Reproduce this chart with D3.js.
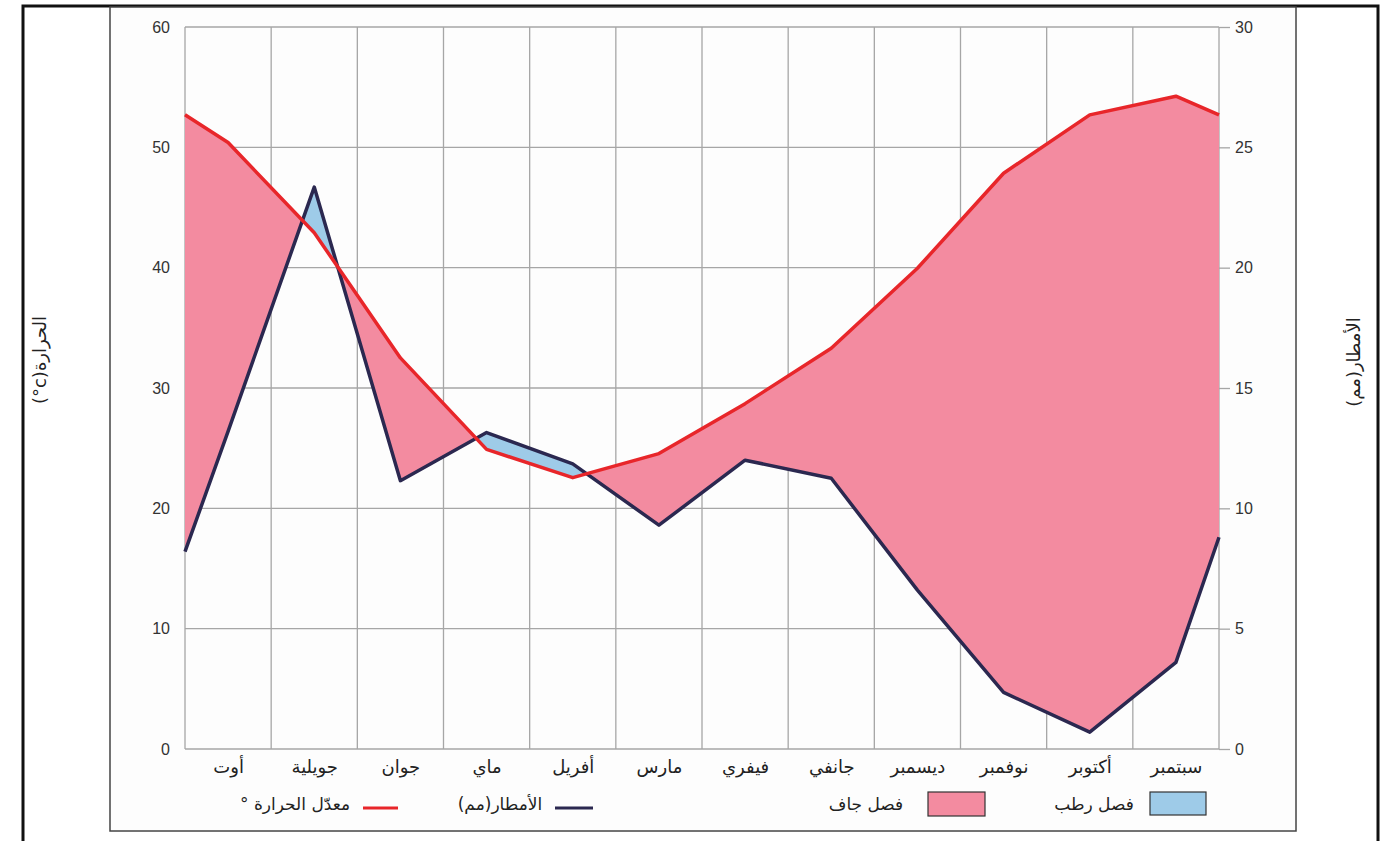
<!DOCTYPE html>
<html>
<head>
<meta charset="utf-8">
<script src="https://cdn.jsdelivr.net/npm/d3@7"></script>
<style>
  body { margin: 0; background: #fff; }
  svg { display: block; }
  .ar { font-family: "DejaVu Sans", sans-serif; }
  .num { font-family: "Liberation Sans", "Open Sans", sans-serif; font-size: 16px; fill: #333; }
</style>
</head>
<body>
<svg id="grafico" width="1392" height="841"></svg>
<script>
// meses (de izquierda a derecha como en el original)
var meses = ["أوت", "جويلية", "جوان", "ماي", "أفريل", "مارس", "فيفري", "جانفي", "ديسمبر", "نوفمبر", "أكتوبر", "سبتمبر"];
// temperatura media (eje izquierdo, 0-60)
var temperatura = [50.4, 42.9, 32.5, 24.9, 22.55, 24.55, 28.7, 33.3, 39.95, 47.85, 52.7, 54.25];
// lluvias en mm (eje derecho, 0-30)
var lluvia = [13.2, 23.35, 11.15, 13.15, 11.85, 9.3, 12.0, 11.25, 6.6, 2.35, 0.7, 3.6];
// valores en los bordes izquierdo / derecho del grafico
var bordeTemperatura = [52.7, 52.7];
var bordeLluvia = [8.2, 8.8];
var ticksTemp = [0, 10, 20, 30, 40, 50, 60];
var ticksLluvia = [0, 5, 10, 15, 20, 25, 30];

(function () {
var svg = d3.select("#grafico");
var M = { left: 185, right: 1219, top: 27, bottom: 749 };

var escalaX = d3.scaleLinear().domain([0, 12]).range([M.left, M.right]);
var escalaT = d3.scaleLinear().domain([0, 60]).range([M.bottom, M.top]);
var escalaL = d3.scaleLinear().domain([0, 30]).range([M.bottom, M.top]);

// puntos: borde izquierdo, meses en el centro de cada banda, borde derecho
var puntos = [{ x: 0, t: bordeTemperatura[0], l: bordeLluvia[0] }];
meses.forEach(function (m, i) {
    puntos.push({ x: i + 0.5, t: temperatura[i], l: lluvia[i] });
});
puntos.push({ x: 12, t: bordeTemperatura[1], l: bordeLluvia[1] });

// marcos
svg.append("rect").attr("x", 23).attr("y", 6).attr("width", 1355).attr("height", 850)
    .attr("fill", "#fff").attr("stroke", "#111").attr("stroke-width", 3);
svg.append("rect").attr("x", 110).attr("y", 7).attr("width", 1186).attr("height", 824)
    .attr("fill", "#fdfdfd").attr("stroke", "#444").attr("stroke-width", 1.5);

// rejilla
var grid = svg.append("g").attr("stroke", "#a6a6a6").attr("stroke-width", 1.3);
grid.selectAll(".h").data(ticksTemp).enter().append("line")
    .attr("x1", M.left).attr("x2", M.right)
    .attr("y1", function (d) { return escalaT(d); }).attr("y2", function (d) { return escalaT(d); });
grid.selectAll(".v").data(d3.range(13)).enter().append("line")
    .attr("y1", M.top).attr("y2", M.bottom)
    .attr("x1", function (d) { return escalaX(d); }).attr("x2", function (d) { return escalaX(d); });

// relleno entre las dos curvas
var defs = svg.append("defs");
defs.append("clipPath").attr("id", "arriba").append("path")
    .attr("d", d3.area().x(function (d) { return escalaX(d.x); }).y0(0)
        .y1(function (d) { return escalaL(d.l); })(puntos));
defs.append("clipPath").attr("id", "abajo").append("path")
    .attr("d", d3.area().x(function (d) { return escalaX(d.x); }).y0(841)
        .y1(function (d) { return escalaL(d.l); })(puntos));

var entre = d3.area().x(function (d) { return escalaX(d.x); })
    .y0(function (d) { return escalaT(d.t); })
    .y1(function (d) { return escalaL(d.l); });

svg.append("path").attr("d", entre(puntos)).attr("fill", "#f38ba0").attr("clip-path", "url(#arriba)");
svg.append("path").attr("d", entre(puntos)).attr("fill", "#9ecbe8").attr("clip-path", "url(#abajo)");

// lineas
var lineaL = d3.line().x(function (d) { return escalaX(d.x); }).y(function (d) { return escalaL(d.l); });
var lineaT = d3.line().x(function (d) { return escalaX(d.x); }).y(function (d) { return escalaT(d.t); });
svg.append("path").attr("d", lineaL(puntos)).attr("fill", "none")
    .attr("stroke", "#2b2850").attr("stroke-width", 3.5).attr("stroke-linejoin", "round");
svg.append("path").attr("d", lineaT(puntos)).attr("fill", "none")
    .attr("stroke", "#e8262a").attr("stroke-width", 3.5).attr("stroke-linejoin", "round");

// ejes
var ejeY = svg.append("g").attr("transform", "translate(" + M.left + ",0)")
    .call(d3.axisLeft(escalaT).tickValues(ticksTemp).tickSize(0).tickPadding(15));
ejeY.select(".domain").remove();
ejeY.selectAll("text").attr("class", "num").attr("font-size", null).attr("font-family", null);

var ejeY2 = svg.append("g").attr("transform", "translate(" + M.right + ",0)")
    .call(d3.axisRight(escalaL).tickValues(ticksLluvia).tickSize(11).tickPadding(5));
ejeY2.select(".domain").remove();
ejeY2.selectAll("line").attr("stroke", "#a6a6a6").attr("stroke-width", 1.3);
ejeY2.selectAll("text").attr("class", "num").attr("font-size", null).attr("font-family", null);

var ejeX = svg.append("g").attr("transform", "translate(0," + M.bottom + ")")
    .call(d3.axisBottom(escalaX).tickValues(d3.range(12).map(function (i) { return i + 0.5; }))
        .tickFormat(function (d) { return meses[Math.floor(d)]; }).tickSize(0).tickPadding(11));
ejeX.select(".domain").remove();
ejeX.selectAll("text").attr("class", "ar").attr("font-family", null).attr("font-size", 18)
    .attr("fill", "#222").attr("direction", "rtl");

// titulos de los ejes
svg.append("text").attr("class", "ar").attr("direction", "rtl")
    .attr("transform", "translate(46,360) rotate(-90)")
    .attr("text-anchor", "middle").attr("font-size", 18).attr("fill", "#222")
    .text("الحرارة(c°)");
svg.append("text").attr("class", "ar").attr("direction", "rtl")
    .attr("transform", "translate(1360,362) rotate(-90)")
    .attr("text-anchor", "middle").attr("font-size", 18).attr("fill", "#222")
    .text("الأمطار(مم)");

// leyenda
var ley = svg.append("g");
ley.append("line").attr("x1", 363).attr("x2", 398).attr("y1", 808).attr("y2", 808)
    .attr("stroke", "#e8262a").attr("stroke-width", 3);
ley.append("text").attr("class", "ar").attr("direction", "rtl").attr("x", 295).attr("y", 810)
    .attr("text-anchor", "middle").attr("font-size", 17).attr("fill", "#222").text("معدّل الحرارة °");
ley.append("line").attr("x1", 555).attr("x2", 593).attr("y1", 808).attr("y2", 808)
    .attr("stroke", "#2b2850").attr("stroke-width", 3);
ley.append("text").attr("class", "ar").attr("direction", "rtl").attr("x", 500).attr("y", 810)
    .attr("text-anchor", "middle").attr("font-size", 17).attr("fill", "#222").text("الأمطار(مم)");
ley.append("rect").attr("x", 928).attr("y", 792).attr("width", 57).attr("height", 24)
    .attr("fill", "#f38ba0").attr("stroke", "#333").attr("stroke-width", 1.2);
ley.append("text").attr("class", "ar").attr("direction", "rtl").attr("x", 866).attr("y", 810)
    .attr("text-anchor", "middle").attr("font-size", 17).attr("fill", "#222").text("فصل جاف");
ley.append("rect").attr("x", 1150).attr("y", 792).attr("width", 56).attr("height", 23)
    .attr("fill", "#9ecbe8").attr("stroke", "#333").attr("stroke-width", 1.2);
ley.append("text").attr("class", "ar").attr("direction", "rtl").attr("x", 1094).attr("y", 810)
    .attr("text-anchor", "middle").attr("font-size", 17).attr("fill", "#222").text("فصل رطب");
})();
</script>
</body>
</html>
